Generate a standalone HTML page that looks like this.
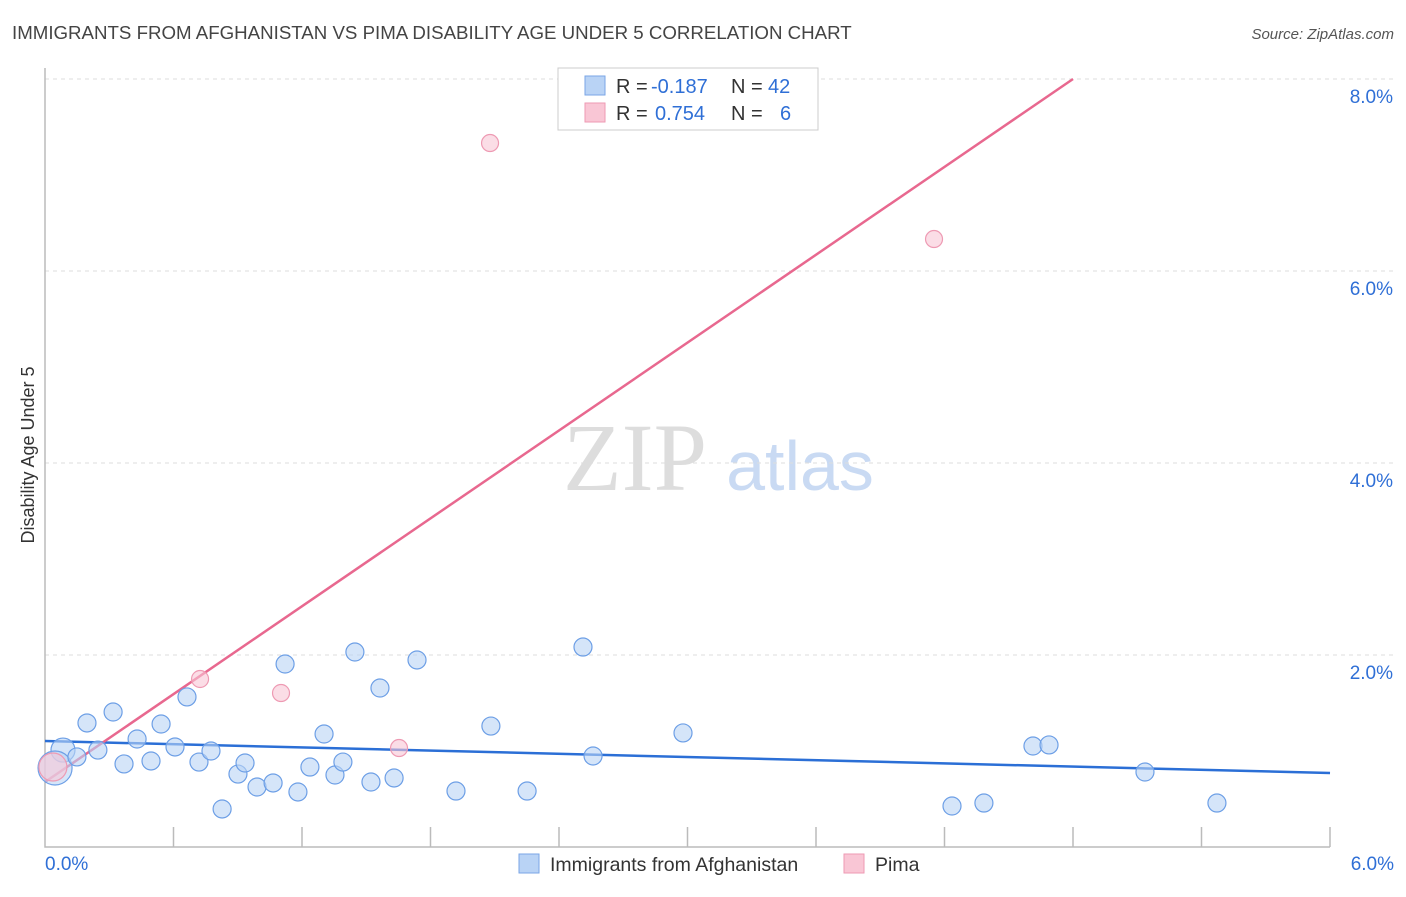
<!DOCTYPE html>
<html><head><meta charset="utf-8"><style>
body{margin:0;background:#fff;font-family:"Liberation Sans",sans-serif;}
</style></head><body>
<svg id="chart" width="1406" height="892" xmlns="http://www.w3.org/2000/svg" font-family="Liberation Sans, sans-serif">
<text x="12" y="39" font-size="18.7" fill="#444">IMMIGRANTS FROM AFGHANISTAN VS PIMA DISABILITY AGE UNDER 5 CORRELATION CHART</text>
<text x="1394" y="39" font-size="15" fill="#555" text-anchor="end" font-style="italic">Source: ZipAtlas.com</text>
<text transform="translate(34,455) rotate(-90)" font-size="18" fill="#333" text-anchor="middle">Disability Age Under 5</text>
<g id="watermark">
<text x="635" y="490" font-size="96" fill="#ddd" font-family="Liberation Serif, serif" text-anchor="middle">ZIP</text>
<text x="800" y="490" font-size="70" fill="#c9daf3" text-anchor="middle">atlas</text>
</g>
<g id="grid"></g><g id="axes"></g><g id="lines"></g><g id="pts"></g>
<g font-size="20">
<rect x="558" y="68" width="260" height="62" fill="#fff" stroke="#ccc"/>
<rect x="585" y="76" width="20" height="19" fill="#b9d3f5" stroke="#7aa6e6"/>
<rect x="585" y="103" width="20" height="19" fill="#f9c6d5" stroke="#ee9ab3"/>
<text x="616" y="93" fill="#333">R =</text>
<text x="651" y="93" fill="#2f6fd6">-0.187</text>
<text x="731" y="93" fill="#333">N =</text>
<text x="768" y="93" fill="#2f6fd6">42</text>
<text x="616" y="120" fill="#333">R =</text>
<text x="655" y="120" fill="#2f6fd6">0.754</text>
<text x="731" y="120" fill="#333">N =</text>
<text x="780" y="120" fill="#2f6fd6">6</text>
</g>
<g>
<rect x="519" y="854" width="20" height="19" fill="#b9d3f5" stroke="#7aa6e6"/>
<text x="550" y="871" font-size="19.5" fill="#333">Immigrants from Afghanistan</text>
<rect x="844" y="854" width="20" height="19" fill="#f9c6d5" stroke="#ee9ab3"/>
<text x="875" y="871" font-size="19.5" fill="#333">Pima</text>
</g>
</svg>
<script>
const blueX=[0.084,0.047,0.149,0.196,0.247,0.318,0.369,0.430,0.495,0.542,0.607,0.663,0.719,0.775,0.827,0.901,0.934,0.990,1.065,1.121,1.181,1.237,1.303,1.354,1.391,1.447,1.522,1.564,1.630,1.737,1.919,2.082,2.251,2.512,2.559,2.979,4.235,4.384,4.613,4.688,5.136,5.472];
const blueY=[1.010,0.823,0.938,1.292,1.010,1.406,0.865,1.125,0.896,1.281,1.042,1.563,0.885,1.0,0.396,0.760,0.875,0.625,0.667,1.906,0.573,0.833,1.177,0.750,0.885,2.031,0.677,1.656,0.719,1.948,0.583,1.260,0.583,2.083,0.948,1.188,0.427,0.458,1.052,1.063,0.781,0.458];
const pinkX=[0.037,0.724,1.102,1.653,2.078,4.151];
const pinkY=[0.833,1.75,1.604,1.031,7.333,6.333];
const blueTrend=[1.104,0.771];
const pinkTrend=[0.677,8.0];
const yTicks=[2,4,6,8];
const xTickLabels=["0.0%","6.0%"];
const NS="http://www.w3.org/2000/svg";
const sx=v=>45+v*214.17, sy=v=>847-v*96;
function mk(tag,parent,attrs){const e=document.createElementNS(NS,tag);for(const k in attrs)e.setAttribute(k,attrs[k]);document.getElementById(parent).appendChild(e);return e;}
yTicks.forEach(t=>{
 const g=mk('line','grid',{x1:45,x2:1395,y1:sy(t),y2:sy(t),stroke:'#ddd','stroke-dasharray':'4,4'});
 
 
 const l=mk('text','axes',{x:1393,y:sy(t)+24,'font-size':19,fill:'#2f6fd6','text-anchor':'end'});
 l.textContent=t.toFixed(1)+'%';
 
 
});
const ax=mk('path','axes',{d:'M45,68 V847 H1330',fill:'none',stroke:'#bbb','stroke-width':1.5});


for(let i=1;i<=10;i++){const x=45+i*128.5;const tk=mk('line','axes',{x1:x,x2:x,y1:827,y2:847,stroke:'#bbb','stroke-width':1.5});
 
 }
[[0,'start',45],[6,'end',1394]].forEach((p,i)=>{const l=mk('text','axes',{x:p[2],y:870,'font-size':19,fill:'#2f6fd6','text-anchor':p[1]});l.textContent=xTickLabels[i];
 
 });
const bl=mk('line','lines',{x1:sx(0),y1:sy(blueTrend[0]),x2:sx(6),y2:sy(blueTrend[1]),stroke:'#2b6fd6','stroke-width':2.5});


const pl=mk('line','lines',{x1:sx(0),y1:sy(pinkTrend[0]),x2:sx(4.8),y2:sy(pinkTrend[1]),stroke:'#e8688f','stroke-width':2.5});


blueX.forEach((x,i)=>{const c=mk('circle','pts',{cx:sx(x),cy:sy(blueY[i]),r:i==0?12:i==1?17:9,fill:'#b9d3f5','fill-opacity':0.6,stroke:'#6d9fe6','stroke-width':1.2});
 
 });
pinkX.forEach((x,i)=>{const c=mk('circle','pts',{cx:sx(x),cy:sy(pinkY[i]),r:i==0?14:8.5,fill:'#f9c6d5','fill-opacity':0.6,stroke:'#ee9ab3','stroke-width':1.2});
 
 });
</script>
</body></html>
